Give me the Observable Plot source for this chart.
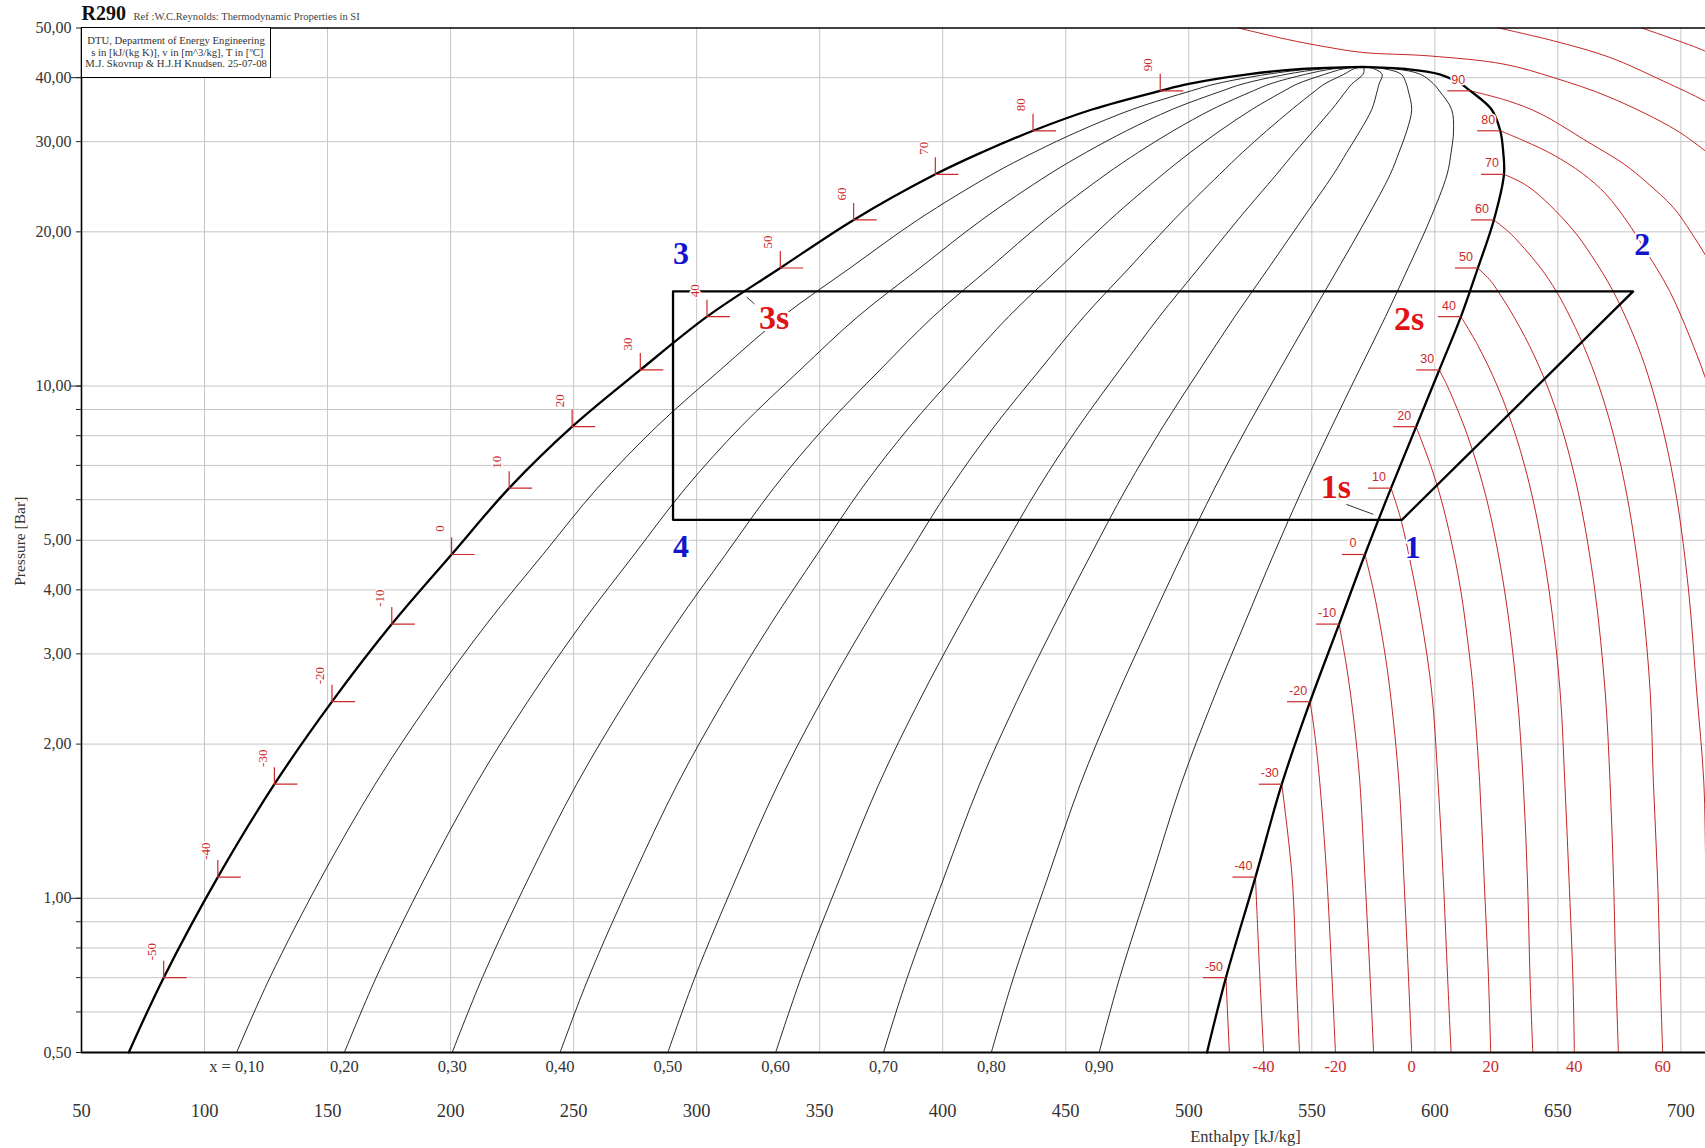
<!DOCTYPE html>
<html>
<head>
<meta charset="utf-8">
<script src="https://cdn.jsdelivr.net/npm/d3@7"></script>
<script src="https://cdn.jsdelivr.net/npm/@observablehq/plot@0.6"></script>
<style>
  html, body { margin: 0; padding: 0; background: #fff; }
  #wrap { position: relative; width: 1705px; height: 1148px; overflow: hidden; }
  #info {
    position: absolute; left: 81px; top: 27px; width: 190px; height: 51px;
    box-sizing: border-box; border: 1.5px solid #000; background: #fff;
    font: 10.7px "Liberation Serif", "Times New Roman", serif; color: #333;
    text-align: center; line-height: 11.7px; padding-top: 7px; white-space: nowrap;
  }
</style>
</head>
<body>
<div id="wrap">
  <div id="chart"></div>
  <div id="info">DTU, Department of Energy Engineering<br>&nbsp;s in [kJ/(kg K)], v in [m^3/kg], T in [ºC]<br>M.J. Skovrup &amp; H.J.H Knudsen. 25-07-08</div>
</div>
<script>
// ---------------- data ----------------
// saturation table: temperature [C], pressure [bar], liquid / vapour enthalpy [kJ/kg]
const satT  = [-55.6, -50, -40, -30, -20, -10, 0, 10, 20, 30, 40, 50, 60, 70, 75, 80, 85, 90, 92, 94, 95.5, 96.5];
const satP  = [0.50, 0.70, 1.10, 1.67, 2.42, 3.43, 4.69, 6.32, 8.33, 10.75, 13.66, 17.0, 21.1, 25.9, 28.6, 31.5, 34.7, 37.7, 38.9, 40.6, 41.6, 42.0];
const satHl = [69.2, 83.4, 105.4, 128.4, 151.8, 176.1, 200.4, 223.8, 249.4, 277.1, 304.2, 334.0, 363.8, 397.0, 416.0, 436.7, 461.0, 488.4, 500.0, 524.0, 546.0, 570.5];
const satHv = [507.4, 515.1, 527.1, 537.8, 549.3, 561.1, 571.6, 582.2, 592.4, 601.8, 610.6, 617.5, 624.0, 628.1, 627.8, 626.6, 623.0, 614.4, 610.5, 602.0, 588.0, 570.5];

// vapour quality lines
const qualities     = [0.1, 0.2, 0.3, 0.4, 0.5, 0.6, 0.7, 0.8, 0.9];
const qualityLabels = ["x = 0,10", "0,20", "0,30", "0,40", "0,50", "0,60", "0,70", "0,80", "0,90"];

// isotherms in the vapour / supercritical region: [pressure bar, enthalpy kJ/kg]
const iso_m50 = [[0.70,515.1],[0.50,516.5]];
const iso_m40 = [[1.10,527.1],[0.70,528.9],[0.50,530.4]];
const iso_m30 = [[1.67,537.8],[1.10,542.0],[0.70,543.7],[0.50,545.0]];
const iso_m20 = [[2.42,549.3],[2.09,551.2],[1.69,553.2],[1.10,556.1],[0.70,558.2],[0.50,559.6]];
const iso_m10 = [[3.43,561.1],[2.80,564.3],[2.20,567.2],[1.69,569.5],[1.10,571.6],[0.70,573.7],[0.50,575.1]];
const iso_0   = [[4.69,571.6],[4.00,575.0],[3.20,578.8],[2.54,581.8],[1.69,585.4],[1.10,587.4],[0.70,589.3],[0.50,590.6]];
const iso_10  = [[6.32,582.2],[5.49,586.2],[4.42,590.5],[3.50,594.5],[2.54,598.7],[1.69,601.3],[1.10,603.4],[0.70,605.2],[0.50,606.6]];
const iso_20  = [[8.33,592.4],[7.00,598.3],[6.00,602.6],[5.00,606.6],[4.00,610.5],[3.00,614.0],[2.54,615.6],[1.69,618.2],[1.10,620.0],[0.70,621.8],[0.50,622.7]];
const iso_30  = [[10.75,601.8],[10.0,605.1],[8.0,613.3],[6.0,621.1],[4.0,628.3],[2.54,633.3],[1.69,635.9],[1.10,637.6],[0.70,638.7],[0.50,639.8]];
const iso_40  = [[13.66,610.6],[12.0,617.5],[10.0,625.4],[8.0,632.9],[6.0,639.9],[4.0,646.4],[2.54,650.9],[1.69,652.8],[1.10,654.5],[0.70,656.1],[0.50,656.7]];
const iso_50  = [[17.0,617.5],[16.0,622.9],[15.3,625.7],[14.0,630.8],[12.0,638.4],[10.0,645.7],[8.0,652.5],[6.0,658.9],[4.0,665.0],[2.54,669.2],[1.69,671.2],[1.10,672.6],[0.70,673.6],[0.50,674.6]];
const iso_60  = [[21.1,624.0],[20.0,630.0],[19.0,634.5],[17.0,643.0],[15.3,649.4],[14.0,653.8],[12.0,660.4],[10.0,666.7],[8.0,672.7],[6.0,678.4],[4.0,683.8],[2.54,687.5],[1.69,688.8],[1.10,690.5],[0.70,691.6],[0.50,692.6]];
const iso_70  = [[25.9,628.1],[25.0,635.0],[24.0,640.5],[22.0,649.0],[20.0,656.8],[18.0,663.6],[15.3,672.5],[12.0,682.4],[10.0,688.0],[8.0,693.3],[6.0,698.4],[4.0,703.1],[2.54,706.4],[1.69,709.3],[1.10,710.2],[0.50,712.5]];
const iso_80  = [[31.5,626.6],[30.0,637.0],[28.3,648.0],[26.0,660.0],[23.7,669.5],[21.0,678.0],[18.6,685.0],[15.3,695.5],[12.0,705.0],[10.0,711.0],[8.0,716.0]];
const iso_90  = [[37.7,614.4],[36.0,630.0],[34.0,643.0],[30.0,662.0],[27.1,677.0],[25.0,686.0],[22.3,697.0],[20.0,704.0],[18.0,710.0],[16.0,716.0]];
const iso_100 = [[50,520.2],[47.5,540.0],[46.0,555.0],[44.8,570.5],[44.1,597.8],[42.5,628.1],[40.0,648.3],[36.6,671.2],[31.5,698.5],[28.0,713.0]];
const iso_110 = [[50,625.9],[47.2,648.2],[43.8,671.2],[39.4,692.8],[36.0,709.7],[34.0,718.0]];
const iso_120 = [[50,684.1],[45.1,709.7],[43.0,718.0]];
const isoTemps = [-50, -40, -30, -20, -10, 0, 10, 20, 30, 40, 50, 60, 70, 80, 90, 100, 110, 120];
const isoLines = [iso_m50, iso_m40, iso_m30, iso_m20, iso_m10, iso_0, iso_10, iso_20, iso_30, iso_40, iso_50, iso_60, iso_70, iso_80, iso_90, iso_100, iso_110, iso_120];
const isoBottomLabels = [-40, -20, 0, 20, 40, 60];

// refrigeration cycle
const cycleNames = ["1", "2", "3", "4"];
const cycleH = [586.6, 680.6, 290.4, 290.4];
const cycleP = [5.48, 15.3, 15.3, 5.48];
const cycleOrder = ["4", "1", "2", "3", "4"];

// axes
const pTicks = [0.5, 0.6, 0.7, 0.8, 0.9, 1, 2, 3, 4, 5, 6, 7, 8, 9, 10, 20, 30, 40, 50];
const pMajor = [1, 10, 40];
const hTicks = [50, 100, 150, 200, 250, 300, 350, 400, 450, 500, 550, 600, 650, 700];

// ---------------- build tables ----------------
const sat = satT.map((T, i) => ({T, p: satP[i], hl: satHl[i], hv: satHv[i]}));
const satLabelled = sat.filter(d => Number.isInteger(d.T) && d.T % 10 === 0);
const dome = [...sat.map(d => ({h: d.hl, p: d.p})), ...sat.slice().reverse().map(d => ({h: d.hv, p: d.p}))];
const qualityRows = qualities.flatMap(q => sat.map(d => ({q, h: d.hl + q * (d.hv - d.hl), p: d.p})));
const qualityBottom = qualities.map((q, i) => ({h: sat[0].hl + q * (sat[0].hv - sat[0].hl), p: sat[0].p, label: qualityLabels[i]}));
const isoRows = isoTemps.flatMap((T, i) => isoLines[i].map(([p, h]) => ({T, p, h})));
const isoBottom = isoBottomLabels.map(T => { const a = isoLines[isoTemps.indexOf(T)]; const [p, h] = a[a.length - 1]; return {T, p, h}; });
const cyc = Object.fromEntries(cycleNames.map((n, i) => [n, {name: n, h: cycleH[i], p: cycleP[i]}]));
const cycleRows = cycleOrder.map(n => cyc[n]);

// ---------------- styles ----------------
const SERIF = '"Liberation Serif", "Times New Roman", serif';
const SANS = '"Liberation Sans", Arial, sans-serif';
const RED = "#c42626";
const LBLRED = "#cc2a2a";
const BLUE = "#1414cc";
const fmtP = d => d3.format(".2f")(d).replace(".", ",");

// custom marker shapes for the saturation-line temperature tags
const tagLeft = {draw(ctx) { ctx.moveTo(-23, 0); ctx.lineTo(0, 0); }};
const tagL = {draw(ctx) { ctx.moveTo(0, -17); ctx.lineTo(0, 0); ctx.lineTo(23, 0); }};

const pointLabel = (name, text, dx, dy, fill, size) =>
  Plot.text([cyc[name]], {x: "h", y: "p", text: () => text, dx, dy, fill, fontSize: size,
    fontWeight: "bold", fontFamily: SERIF, stroke: "white", strokeWidth: 4, lineAnchor: "middle"});

const plot = Plot.plot({
  width: 1705, height: 1148,
  marginLeft: 81, marginRight: 0, marginTop: 27.5, marginBottom: 96,
  x: {domain: [50, 710]},
  y: {type: "log", domain: [0.5, 50]},
  style: {fontFamily: SERIF, background: "#fff", color: "#222"},
  marks: [
    // grid
    Plot.ruleX(hTicks.filter(h => h > 50), {stroke: "#c6c6c6", strokeWidth: 1}),
    Plot.ruleY(pTicks.filter(p => p > 0.5 && p < 50), {stroke: "#c6c6c6", strokeWidth: 1}),
    // quality lines
    Plot.line(qualityRows, {x: "h", y: "p", z: "q", stroke: "#111", strokeWidth: 0.9, curve: "catmull-rom"}),
    // isotherms
    Plot.line(isoRows, {x: "h", y: "p", z: "T", stroke: RED, strokeWidth: 1, curve: "catmull-rom", clip: true}),
    // saturation dome
    Plot.line(dome, {x: "h", y: "p", stroke: "#000", strokeWidth: 2.3, curve: "catmull-rom"}),
    // cycle
    Plot.line(cycleRows, {x: "h", y: "p", stroke: "#000", strokeWidth: 2.3}),
    // frame
    Plot.ruleX([50], {stroke: "#000", strokeWidth: 1.6}),
    Plot.ruleY([0.5], {stroke: "#000", strokeWidth: 2}),
    Plot.ruleY([50], {stroke: "#000", strokeWidth: 1.4}),
    // axes
    Plot.axisY({ticks: pTicks, tickFormat: fmtP, tickSize: 5, tickPadding: 5, fontSize: 16, fill: "#333", label: null}),
    Plot.axisY({ticks: pMajor, tickFormat: () => "", tickSize: 10, label: null}),
    Plot.axisX({ticks: hTicks, tickSize: 0, tickPadding: 51, fontSize: 18.5, fill: "#333", label: null}),
    // bottom row labels
    Plot.text(qualityBottom, {x: "h", y: "p", text: "label", dy: 14, fontSize: 16.5, fill: "#333", lineAnchor: "middle"}),
    Plot.text(isoBottom, {x: "h", y: "p", text: d => String(d.T), dy: 14, fontSize: 16.5, fill: LBLRED, lineAnchor: "middle"}),
    // saturated vapour temperature tags
    Plot.dot(satLabelled, {x: "hv", y: "p", symbol: tagLeft, stroke: LBLRED, fill: "none", strokeWidth: 1.2}),
    Plot.text(satLabelled, {x: "hv", y: "p", text: d => String(d.T), dx: -12, dy: -11, fontSize: 12.5,
      fontFamily: SANS, fill: LBLRED, stroke: "white", strokeWidth: 3, lineAnchor: "middle"}),
    // saturated liquid temperature tags
    Plot.dot(satLabelled, {x: "hl", y: "p", symbol: tagL, stroke: LBLRED, fill: "none", strokeWidth: 1.2}),
    Plot.text(satLabelled, {x: "hl", y: "p", text: d => String(d.T), rotate: -90, dx: -12, dy: -26, fontSize: 13,
      fill: LBLRED, stroke: "white", strokeWidth: 3, lineAnchor: "middle"}),
    // cycle point labels
    pointLabel("1", "1", 11, 28, BLUE, 32),
    pointLabel("2", "2", 9, -47, BLUE, 32),
    pointLabel("3", "3", 8, -38, BLUE, 32),
    pointLabel("4", "4", 8, 27, BLUE, 32),
    pointLabel("1", "1s", -66, -33, "#e01414", 34),
    pointLabel("2", "2s", -224, 28, "#e01414", 34),
    pointLabel("3", "3s", 101, 27, "#e01414", 34),
    // titles
    Plot.text(["R290"], {frameAnchor: "top-left", text: d => d, dy: -14, textAnchor: "start", lineAnchor: "middle",
      fontSize: 20, fontWeight: "bold", fill: "#111"}),
    Plot.text(["Ref :W.C.Reynolds: Thermodynamic Properties in SI"], {frameAnchor: "top-left", text: d => d, dx: 52, dy: -11,
      textAnchor: "start", lineAnchor: "middle", fontSize: 10.6, fill: "#444"}),
    Plot.text(["Pressure [Bar]"], {frameAnchor: "left", text: d => d, rotate: -90, dx: -61, dy: 1, fontSize: 15.5, fill: "#333",
      textAnchor: "middle", lineAnchor: "middle"}),
    Plot.text(["Enthalpy [kJ/kg]"], {frameAnchor: "bottom-left", text: d => d, dx: 1164, dy: 84, fontSize: 16.5, fill: "#333",
      textAnchor: "middle", lineAnchor: "middle"})
  ]
});

// small leader strokes next to the "1s" and "3s" labels
{
  const sx = plot.scale("x").apply, sy = plot.scale("y").apply;
  const svg = d3.select(plot);
  const leaders = [
    [cyc["1"], -55, -15, -28, -5],
    [cyc["3"], 74, 6, 82, 13]
  ];
  for (const [pt, x1, y1, x2, y2] of leaders) {
    const X = sx(pt.h), Y = sy(pt.p);
    svg.append("line").attr("x1", X + x1).attr("y1", Y + y1).attr("x2", X + x2).attr("y2", Y + y2)
      .attr("stroke", "#333").attr("stroke-width", 1);
  }
}

document.getElementById("chart").appendChild(plot);
</script>
</body>
</html>
